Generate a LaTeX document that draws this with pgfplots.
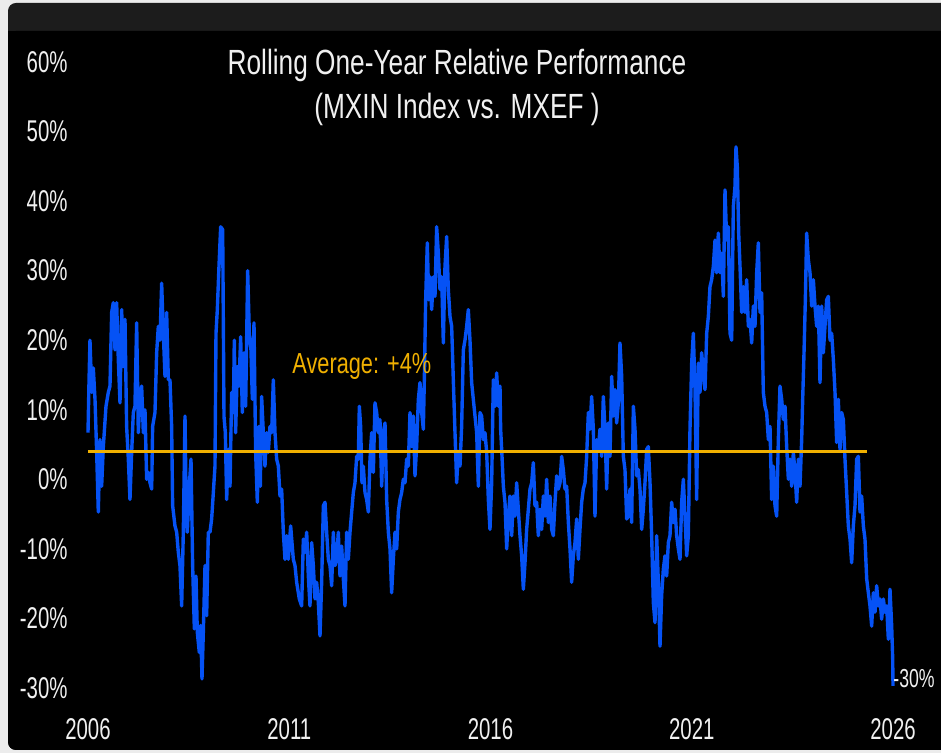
\documentclass[border=0pt]{standalone}
\usepackage{fontspec}
\setmainfont[FakeStretch=0.75]{Liberation Sans}
\newfontfamily\narrowfont[FakeStretch=0.68]{Liberation Sans}
\usepackage{pgfplots}
\pgfplotsset{compat=1.18}
\definecolor{hdr}{RGB}{28,28,28}
\definecolor{frm}{RGB}{236,236,236}
\definecolor{lineblue}{RGB}{5,82,245}
\definecolor{avgorange}{RGB}{240,176,0}
\definecolor{txt}{RGB}{240,240,240}
\begin{document}
\begin{tikzpicture}[x=1pt,y=1pt]
\useasboundingbox (0,0) rectangle (470.5,376.5);
\fill[frm] (0,0) rectangle (470.5,376.5);
\fill[hdr,rounded corners=4pt] (4,1.5) rectangle (480,375);
\fill[black,rounded corners=4pt] (4,1.5) rectangle (480,361);
\fill[black] (4,200) rectangle (480,361);
\node[anchor=base, text=txt, font=\fontsize{17.5}{21}\selectfont, inner sep=0pt] at (228.5,339) {Rolling One-Year Relative Performance};
\node[anchor=base, text=txt, font=\fontsize{17.5}{21}\selectfont, inner sep=0pt] at (228.5,317) {(MXIN Index vs. MXEF )};
\begin{axis}[
  at={(35.95pt,25.54pt)}, anchor=south west,
  scale only axis, width=430.675pt, height=326.93pt,
  xmin=2005.6, xmax=2027, ymin=-32, ymax=62,
  axis line style={draw=none},
  major tick length=0pt,
  xtick={2006,2011,2016,2021,2026},
  xticklabels={2006,2011,2016,2021,2026},
  ytick={-30,-20,-10,0,10,20,30,40,50,60},
  yticklabels={-30\%,-20\%,-10\%,0\%,10\%,20\%,30\%,40\%,50\%,60\%},
  tick label style={font=\narrowfont\fontsize{15}{18}\selectfont, text=txt},
  yticklabel style={anchor=east, inner sep=0pt, xshift=-2pt},
  xticklabel style={anchor=base, inner sep=0pt, yshift=-19pt},
]
\addplot[lineblue, line width=1.7pt, line join=round] coordinates {
(2006.000,6.7) (2006.025,14) (2006.049,20) (2006.070,16.5) (2006.091,12.5) (2006.132,16) (2006.174,11.5) (2006.215,3.9) (2006.256,-4.7) (2006.298,5.7) (2006.339,-1) (2006.381,4.7) (2006.447,10.5) (2006.505,12.5) (2006.546,13.4) (2006.588,24) (2006.629,25.4) (2006.671,18.6) (2006.712,25.4) (2006.753,17.2) (2006.795,11) (2006.836,24.4) (2006.878,16.2) (2006.919,23) (2006.960,7.6) (2007.002,2.9) (2007.043,-2.9) (2007.085,3.9) (2007.126,9.6) (2007.167,10.5) (2007.209,22.5) (2007.250,6.7) (2007.292,11.9) (2007.333,13.4) (2007.375,6.7) (2007.416,10) (2007.457,0) (2007.499,1) (2007.540,-0.5) (2007.582,-1.4) (2007.606,7.6) (2007.664,9.6) (2007.706,18.2) (2007.747,22) (2007.789,20) (2007.830,28.2) (2007.871,21) (2007.913,14.8) (2007.954,24) (2007.996,14.3) (2008.037,14.3) (2008.078,7.6) (2008.103,-3.8) (2008.161,-6.7) (2008.203,-7.6) (2008.244,-10.5) (2008.285,-12.4) (2008.327,-18.2) (2008.368,-7.6) (2008.410,9.1) (2008.435,-1.9) (2008.468,-7.6) (2008.517,-1) (2008.559,2.9) (2008.600,-12.4) (2008.642,-21.5) (2008.683,-13.9) (2008.716,-22) (2008.766,-24.9) (2008.799,-21) (2008.832,-28.7) (2008.865,-22) (2008.907,-12.4) (2008.948,-19.6) (2008.989,-7.6) (2009.031,-7.6) (2009.072,-5.7) (2009.114,-1.9) (2009.155,1.9) (2009.180,21) (2009.213,24.4) (2009.254,30.6) (2009.296,36.3) (2009.346,35.9) (2009.379,9) (2009.412,6.7) (2009.445,-2.9) (2009.486,4.3) (2009.528,-1) (2009.569,12.5) (2009.611,9.6) (2009.635,20) (2009.668,6.7) (2009.710,16.2) (2009.751,13.4) (2009.793,20.5) (2009.834,9.6) (2009.876,18.2) (2009.917,10.5) (2009.967,30) (2010.008,21) (2010.049,18.6) (2010.083,11.5) (2010.124,22.5) (2010.165,3.9) (2010.207,-3.3) (2010.248,7.6) (2010.281,-1) (2010.314,11.9) (2010.356,6.7) (2010.397,1.9) (2010.439,6.7) (2010.480,3.9) (2010.521,7.6) (2010.563,6.7) (2010.604,14.3) (2010.646,6.7) (2010.687,2.9) (2010.729,1.9) (2010.770,-2.4) (2010.811,-1.4) (2010.853,-7.6) (2010.894,-11.5) (2010.936,-8.1) (2010.977,-11.5) (2011.035,-6.7) (2011.101,-11.5) (2011.143,-12.4) (2011.184,-14.8) (2011.250,-17.2)
(2011.308,-18.2) (2011.350,-8.6) (2011.391,-10.5) (2011.433,-7.6) (2011.474,-13.9) (2011.515,-18.2) (2011.557,-9.1) (2011.598,-12.4) (2011.640,-17.2) (2011.681,-14.8) (2011.722,-17.7) (2011.764,-22.5) (2011.805,-14.8) (2011.847,-3.8) (2011.888,-3.3) (2011.929,-7.6) (2011.971,-11.5) (2012.012,-12.4) (2012.054,-15.3) (2012.095,-7.6) (2012.136,-12.4) (2012.178,-11.5) (2012.219,-7.6) (2012.261,-13.9) (2012.302,-9.6) (2012.344,-14.3) (2012.385,-18.2) (2012.426,-7.6) (2012.468,-11.5) (2012.509,-7.6) (2012.551,-4.7) (2012.592,-1.9) (2012.633,-0.5) (2012.675,3.3) (2012.716,2.9) (2012.741,10.5) (2012.774,7.6) (2012.807,-0.5) (2012.840,1.9) (2012.882,-1.9) (2012.923,-2.9) (2012.965,-4.7) (2013.006,2.9) (2013.047,6.7) (2013.089,1) (2013.130,11) (2013.172,9.6) (2013.213,6.7) (2013.254,8.6) (2013.296,-1) (2013.337,6.7) (2013.379,8.1) (2013.420,-2.9) (2013.462,-7.6) (2013.503,-10) (2013.544,-16.3) (2013.586,-11.5) (2013.627,-7.6) (2013.669,-10) (2013.710,-4.7) (2013.751,-2.9) (2013.793,-1.9) (2013.834,0) (2013.876,-0.5) (2013.917,2.9) (2013.958,1.9) (2014.000,9.6) (2014.041,4.7) (2014.083,9.1) (2014.124,0.5) (2014.165,4.7) (2014.207,11.5) (2014.248,13.9) (2014.290,9.6) (2014.331,7.2) (2014.356,14.3) (2014.389,25.8) (2014.430,34) (2014.464,25.8) (2014.497,29.1) (2014.538,24.4) (2014.580,29.1) (2014.621,26.3) (2014.662,36.3) (2014.704,32.5) (2014.745,27.3) (2014.787,29.1) (2014.828,19.6) (2014.869,30.6) (2014.911,34.9) (2014.952,27.3) (2014.994,23.4) (2015.035,22) (2015.076,14.3) (2015.118,6.7) (2015.159,-0.5) (2015.201,3.9) (2015.242,1.9) (2015.283,7.6) (2015.325,18.6) (2015.366,20) (2015.408,22) (2015.449,24.4) (2015.490,20) (2015.532,13.9) (2015.573,11.5) (2015.615,9.1) (2015.656,6.7) (2015.698,-1) (2015.739,9.6) (2015.780,9.1) (2015.822,5.7) (2015.863,6.7) (2015.905,3.9) (2015.946,-2.9) (2015.987,-7.2) (2016.029,-0.5) (2016.070,14.3) (2016.112,10.5) (2016.153,15.3) (2016.194,10.5) (2016.236,13.4)
(2016.252,7.2) (2016.286,3.3) (2016.319,-1) (2016.360,-3.3) (2016.402,-10) (2016.443,-5.3) (2016.484,-2.4) (2016.526,-8.1) (2016.567,-2.4) (2016.609,-5.3) (2016.650,-0.5) (2016.691,-4.3) (2016.733,-8.1) (2016.774,-11) (2016.816,-15.8) (2016.857,-12) (2016.898,-7.2) (2016.940,-4.3) (2016.981,-1.4) (2017.023,-0.5) (2017.064,2.4) (2017.105,-3.8) (2017.147,-3.3) (2017.188,-8.1) (2017.230,-4.3) (2017.271,-7.2) (2017.313,-2.4) (2017.354,-5.3) (2017.395,0) (2017.437,-6.2) (2017.478,-2.4) (2017.520,-7.2) (2017.561,-8.1) (2017.602,-3.3) (2017.644,0.5) (2017.685,-1.4) (2017.727,-0.5) (2017.768,3.3) (2017.809,1.4) (2017.851,-1.4) (2017.892,-1) (2017.934,-6.2) (2017.975,-10) (2018.016,-14.8) (2018.058,-11) (2018.099,-9.1) (2018.141,-5.7) (2018.182,-11.5) (2018.223,-7.2) (2018.265,-3.3) (2018.306,-1.4) (2018.348,-0.5) (2018.389,3.3) (2018.431,9.6) (2018.472,7.2) (2018.513,11.9) (2018.555,7.2) (2018.596,-5.3) (2018.638,5.7) (2018.679,4.3) (2018.720,7.2) (2018.762,3.3) (2018.803,11.9) (2018.845,7.2) (2018.886,-1.4) (2018.927,8.1) (2018.969,3.3) (2019.010,14.8) (2019.052,9.1) (2019.093,12.9) (2019.134,8.1) (2019.176,11) (2019.217,19.6) (2019.259,14.8) (2019.300,3.3) (2019.341,1.4) (2019.383,-5.7) (2019.424,-5.3) (2019.466,-1.4) (2019.507,-6.2) (2019.549,10.5) (2019.590,7.2) (2019.631,0.5) (2019.673,1.4) (2019.714,-1.4) (2019.756,-7.2) (2019.797,-4.3) (2019.838,-0.5) (2019.880,4.3) (2019.921,4.7) (2019.963,-0.5) (2020.004,-8.1) (2020.045,-17.7) (2020.087,-20.6) (2020.128,-8.1) (2020.170,-14.8) (2020.211,-24) (2020.252,-16.7) (2020.294,-12.9) (2020.335,-11) (2020.377,-13.9) (2020.418,-9.1) (2020.459,-8.1) (2020.501,-3.3) (2020.542,-6.2) (2020.584,-4.3) (2020.625,-8.1) (2020.667,-10) (2020.708,-11.5) (2020.749,-3.3) (2020.791,0) (2020.832,-5.3) (2020.874,-11) (2020.915,-8.1) (2020.956,7.2) (2020.998,16.7) (2021.039,21) (2021.081,12.9) (2021.122,-2.9) (2021.163,16.7)
(2021.205,12.5) (2021.246,18.2) (2021.288,15.3) (2021.329,12.9) (2021.371,21) (2021.412,23.4) (2021.453,27.7) (2021.495,28.7) (2021.536,30.6) (2021.578,34.4) (2021.619,29.7) (2021.660,35.4) (2021.702,29.7) (2021.743,32.5) (2021.785,26.3) (2021.826,41.6) (2021.867,34.4) (2021.909,36.3) (2021.950,21) (2021.992,20) (2022.033,39.2) (2022.074,42.1) (2022.099,47.8) (2022.132,44.9) (2022.166,35.4) (2022.199,30.6) (2022.240,24) (2022.282,27.7) (2022.323,24) (2022.364,28.7) (2022.406,22) (2022.447,23) (2022.489,19.6) (2022.530,24.9) (2022.571,22) (2022.613,29.7) (2022.654,34) (2022.696,24) (2022.737,26.8) (2022.778,12.5) (2022.820,10.5) (2022.861,9.6) (2022.903,5.7) (2022.944,7.6) (2022.985,-2.9) (2023.027,1.9) (2023.068,-3.8) (2023.110,-5.3) (2023.151,5.7) (2023.192,13.4) (2023.234,11.5) (2023.275,8.6) (2023.317,10.5) (2023.358,4.7) (2023.400,0) (2023.441,2.9) (2023.482,-1) (2023.524,3.9) (2023.565,1) (2023.607,-3.3) (2023.648,2.9) (2023.689,-1) (2023.731,5.7) (2023.756,11.5) (2023.789,18.2) (2023.822,25.8) (2023.855,35.4) (2023.896,31.6) (2023.938,29.7) (2023.979,24.9) (2024.021,28.7) (2024.062,24.9) (2024.103,22) (2024.145,24.9) (2024.186,13.9) (2024.228,24.9) (2024.269,18.2) (2024.310,22) (2024.352,25.8) (2024.393,26.3) (2024.435,20) (2024.476,21) (2024.518,17.2) (2024.559,12.5) (2024.600,5.3) (2024.642,11.5) (2024.683,4.3) (2024.725,9.6) (2024.766,8.6) (2024.807,2.9) (2024.849,-1.9) (2024.890,-6.7) (2024.932,-8.6) (2024.973,-12) (2025.014,-6.7) (2025.056,-3.8) (2025.097,2.9) (2025.139,3.3) (2025.180,-4.7) (2025.221,-2.4) (2025.263,-6.7) (2025.304,-8.6) (2025.346,-14.3) (2025.387,-16.3) (2025.428,-18.2) (2025.470,-21.1) (2025.511,-16.3) (2025.553,-19.1) (2025.594,-15.3) (2025.636,-18.2) (2025.677,-17.2) (2025.718,-20.1) (2025.760,-17.2) (2025.801,-19.1) (2025.843,-18.2) (2025.884,-23) (2025.925,-15.8) (2025.967,-21.1) (2025.992,-25.8) (2026.000,-29.7)
};
\addplot[avgorange, line width=1.5pt] coordinates {(2006,4) (2025.36,4)};
\node[anchor=base west, text=avgorange, font=\fontsize{14.5}{17}\selectfont, inner sep=0pt] at (axis cs:2011.07,15.2) {Average: +4\%};
\node[anchor=base west, text=txt, font=\narrowfont\fontsize{13}{16}\selectfont, inner sep=0pt] at (axis cs:2026.0,-29.9) {-30\%};
\end{axis}
\end{tikzpicture}
\end{document}
